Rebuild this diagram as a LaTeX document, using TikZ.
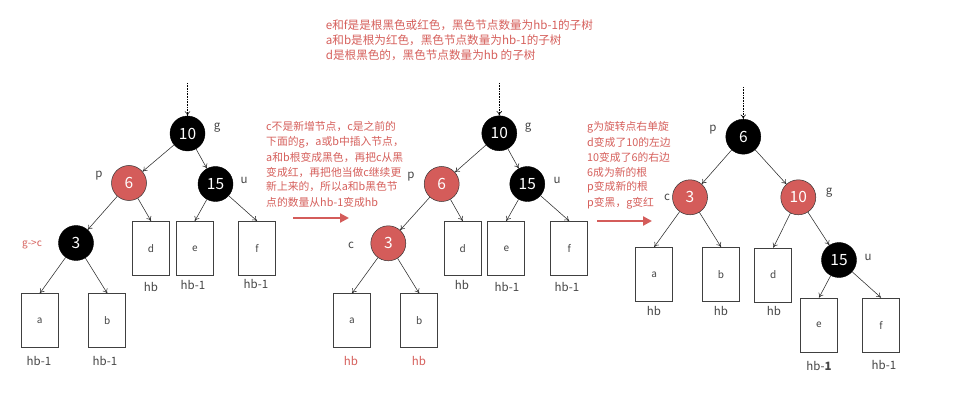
\documentclass[tikz,border=0pt]{standalone}
\usepackage{fontspec}
\setmainfont{Noto Sans CJK SC}
\usetikzlibrary{arrows.meta}
\definecolor{rbred}{RGB}{212,92,90}
\definecolor{rbtext}{RGB}{214,96,92}
\definecolor{edge}{RGB}{45,45,45}
\definecolor{lbl}{RGB}{70,70,70}
\tikzset{
  blk/.style={circle,fill=black,draw=black,minimum size=35pt,inner sep=0pt,text=white,font=\fontsize{15.5}{15.5}\selectfont},
  rdn/.style={circle,fill=rbred,draw=black!80,line width=0.5pt,minimum size=35pt,inner sep=0pt,text=white,font=\fontsize{15.5}{15.5}\selectfont},
  sub/.style={draw=black!75,line width=0.7pt,minimum width=37pt,minimum height=54pt,inner sep=0pt,text=lbl,font=\fontsize{10}{10}\selectfont},
  tag/.style={text=lbl,inner sep=0pt,font=\fontsize{11.5}{12}\selectfont},
  note/.style={text=rbtext,inner sep=0pt,anchor=west,font=\fontsize{11.6}{12}\selectfont},
  snote/.style={note,font=\fontsize{10.8}{12}\selectfont},
  ed/.style={draw=edge,line width=0.55pt,-{To[length=4.5pt,width=5.5pt]}},
  dt/.style={draw=black,line width=0.6pt,densely dotted,-{To[length=4.5pt,width=5.5pt]}},
  bigarr/.style={draw=rbred,line width=2.2pt,-{Triangle[length=9pt,width=9pt]}}
}
\begin{document}
\begin{tikzpicture}[x=1pt,y=-1pt]
\useasboundingbox (0,0) rectangle (972,406);
\fill[white] (0,0) rectangle (972,406);

% ---------- top note ----------
\node[note] (t1) at (325.7,25) {e和f是是根黑色或红色，黑色节点数量为hb-1的子树};
\node[note] (t2) at (325.7,40) {a和b是根为红色，黑色节点数量为hb-1的子树};
\node[note] (t3) at (325.7,55) {d是根黑色的，黑色节点数量为hb 的子树};

% ---------- tree 1 ----------
\coordinate (top1) at (187.5,83);
\node[blk] (g1) at (187.5,133.5) {10};
\node[rdn] (p1) at (129,183) {6};
\node[blk] (u1) at (215.5,184) {15};
\node[blk] (c1) at (76,243) {3};
\node[sub] (a1) at (39.8,320.7) {a};
\node[sub] (b1) at (107.3,320.7) {b};
\node[sub] (d1) at (151,248.3) {d};
\node[sub] (e1) at (194.8,248.3) {e};
\node[sub] (f1) at (257,248.3) {f};
\node[tag] (lg1) at (217,128) {g};
\node[tag] (lp1) at (99,176) {p};
\node[tag] (lu1) at (244,180) {u};
\node[text=rbtext,inner sep=0pt,font=\fontsize{10}{10}\selectfont] (lc1) at (32,245) {g->c};
\node[tag] (hd1) at (151,287) {hb};
\node[tag] (he1) at (193,285) {hb-1};
\node[tag] (hf1) at (256,284) {hb-1};
\node[tag] (ha1) at (39,361) {hb-1};
\node[tag] (hb1) at (105,361) {hb-1};
\draw[dt] (top1) -- (g1);
\draw[ed] (g1) -- (p1);
\draw[ed] (g1) -- (u1);
\draw[ed] (p1) -- (c1);
\draw[ed] (p1) -- (d1.north);
\draw[ed] (u1) -- (e1.north);
\draw[ed] (u1) -- (f1.north);
\draw[ed] (c1) -- (a1.north);
\draw[ed] (c1) -- (b1.north);

% ---------- middle note + arrow ----------
\node[snote] (m1) at (266,127) {c不是新增节点，c是之前的};
\node[snote] (m2) at (266,142) {下面的g，a或b中插入节点，};
\node[snote] (m3) at (266,157) {a和b根变成黑色，再把c从黑};
\node[snote] (m4) at (266,172) {变成红，再把他当做c继续更};
\node[snote] (m5) at (266,187) {新上来的，所以a和b黑色节};
\node[snote] (m6) at (266,202) {点的数量从hb-1变成hb};
\coordinate (ar1s) at (293,218);
\coordinate (ar1e) at (349,218);
\draw[bigarr] (ar1s) -- (ar1e);

% ---------- tree 2 ----------
\coordinate (top2) at (499.3,83);
\node[blk] (g2) at (499.3,133.3) {10};
\node[rdn] (p2) at (441.7,184) {6};
\node[blk] (u2) at (527.3,184) {15};
\node[rdn] (c2) at (388.3,243.3) {3};
\node[sub] (a2) at (352,320.7) {a};
\node[sub] (b2) at (419.2,320.7) {b};
\node[sub] (d2) at (462.7,248.3) {d};
\node[sub] (e2) at (506.3,248.3) {e};
\node[sub] (f2) at (569.2,248.3) {f};
\node[tag] (lg2) at (528,128) {g};
\node[tag] (lp2) at (411,177) {p};
\node[tag] (lu2) at (557,180) {u};
\node[tag] (lc2) at (351,245) {c};
\node[tag] (hd2) at (462,285) {hb};
\node[tag] (he2) at (507,287) {hb-1};
\node[tag] (hf2) at (567,287) {hb-1};
\node[tag,text=rbtext] (ha2) at (351,361) {hb};
\node[tag,text=rbtext] (hb2) at (419,361) {hb};
\draw[dt] (top2) -- (g2);
\draw[ed] (g2) -- (p2);
\draw[ed] (g2) -- (u2);
\draw[ed] (p2) -- (c2);
\draw[ed] (p2) -- (d2.north);
\draw[ed] (u2) -- (e2.north);
\draw[ed] (u2) -- (f2.north);
\draw[ed] (c2) -- (a2.north);
\draw[ed] (c2) -- (b2.north);

% ---------- right note + arrow ----------
\node[snote] (r1) at (587,127) {g为旋转点右单旋};
\node[snote] (r2) at (587,142) {d变成了10的左边};
\node[snote] (r3) at (587,157) {10变成了6的右边};
\node[snote] (r4) at (587,172) {6成为新的根};
\node[snote] (r5) at (587,187.5) {p变成新的根};
\node[snote] (r6) at (587,203) {p变黑，g变红};
\coordinate (ar2s) at (597,221);
\coordinate (ar2e) at (652,221);
\draw[bigarr] (ar2s) -- (ar2e);

% ---------- tree 3 ----------
\coordinate (top3) at (743.3,87);
\node[blk] (p3) at (743.3,136.7) {6};
\node[rdn] (c3) at (690,197.3) {3};
\node[rdn] (g3) at (798.3,197.3) {10};
\node[blk] (u3) at (839,260) {15};
\node[sub] (a3) at (654.2,274.3) {a};
\node[sub] (b3) at (721,274.3) {b};
\node[sub] (d3) at (773.3,275) {d};
\node[sub] (e3) at (819,325) {e};
\node[sub] (f3) at (881,325) {f};
\node[tag] (lp3) at (713,130) {p};
\node[tag] (lc3) at (667,197) {c};
\node[tag] (lg3) at (829,193) {g};
\node[tag] (lu3) at (868,257) {u};
\node[tag] (ha3) at (654,311) {hb};
\node[tag] (hb3) at (721,311) {hb};
\node[tag] (hd3) at (774,311) {hb};
\node[tag] (he3) at (819,366) {hb-\textbf{1}};
\node[tag] (hf3) at (884,365) {hb-1};
\draw[dt] (top3) -- (p3);
\draw[ed] (p3) -- (c3);
\draw[ed] (p3) -- (g3);
\draw[ed] (c3) -- (a3.north);
\draw[ed] (c3) -- (b3.north);
\draw[ed] (g3) -- (d3.north);
\draw[ed] (g3) -- (u3);
\draw[ed] (u3) -- (e3.north);
\draw[ed] (u3) -- (f3.north);
\end{tikzpicture}
\end{document}
